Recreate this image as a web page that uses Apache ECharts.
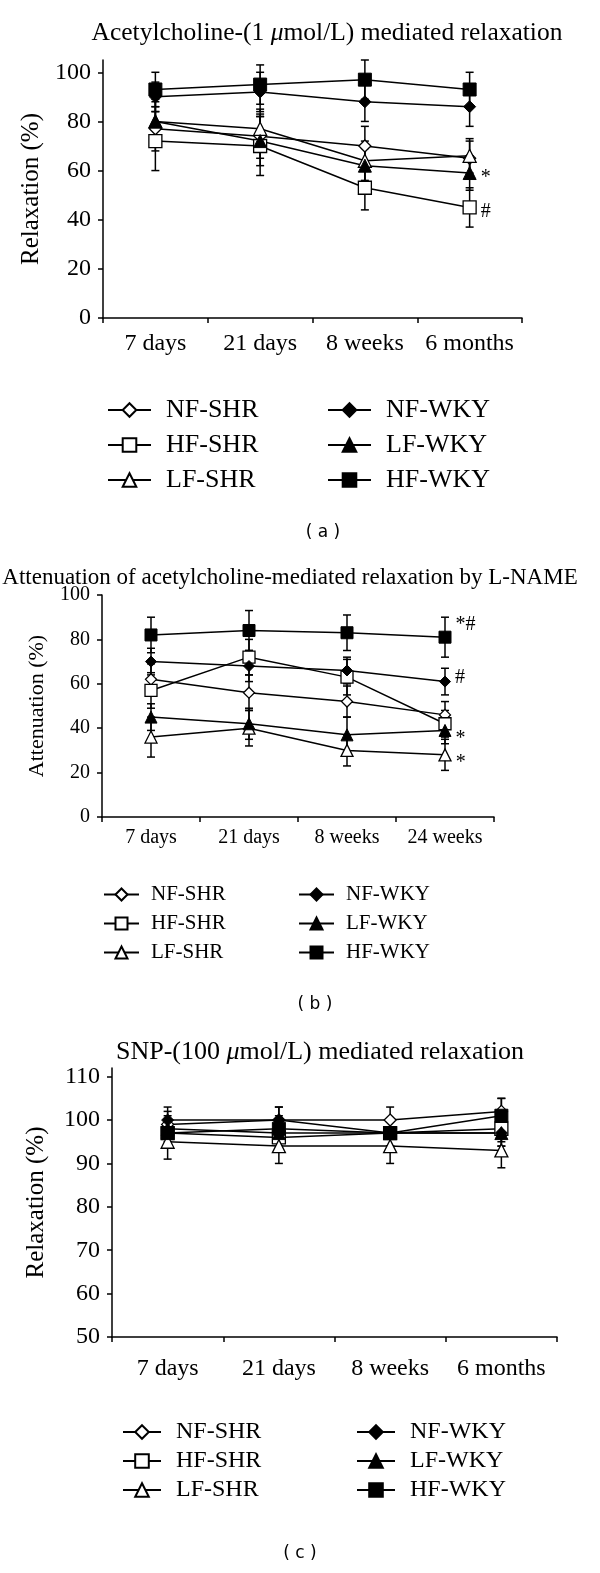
<!DOCTYPE html>
<html><head><meta charset="utf-8">
<script src="https://cdn.jsdelivr.net/npm/echarts@6/dist/echarts.min.js"></script>
<style>html,body{margin:0;padding:0;background:#fff}#c{width:600px;height:1573px}</style>
</head><body><div id="c"></div>
<script>
// ---- data ----
const groups = ['NF-SHR', 'HF-SHR', 'LF-SHR', 'NF-WKY', 'LF-WKY', 'HF-WKY'];
const categoriesA = ['7 days', '21 days', '8 weeks', '6 months'];
const categoriesB = ['7 days', '21 days', '8 weeks', '24 weeks'];
const categoriesC = ['7 days', '21 days', '8 weeks', '6 months'];
const ticksA = [0, 20, 40, 60, 80, 100];
const ticksB = [0, 20, 40, 60, 80, 100];
const ticksC = [50, 60, 70, 80, 90, 100, 110];
// rows follow the order of groups
const valuesA = [
  [77, 74, 70, 65],
  [72, 70, 53, 45],
  [80, 77, 64, 66],
  [90, 92, 88, 86],
  [80, 72, 62, 59],
  [93, 95, 97, 93]
];
const errorsA = [
  [9, 9, 8, 7],
  [12, 12, 9, 8],
  [9, 8, 8, 7],
  [6, 8, 8, 8],
  [8, 10, 7, 7],
  [7, 8, 8, 7]
];
const valuesB = [
  [62, 56, 52, 46],
  [57, 72, 63, 42],
  [36, 40, 30, 28],
  [70, 68, 66, 61],
  [45, 42, 37, 39],
  [82, 84, 83, 81]
];
const errorsB = [
  [7, 8, 7, 6],
  [8, 8, 8, 6],
  [9, 8, 7, 7],
  [6, 7, 6, 6],
  [6, 7, 8, 6],
  [8, 9, 8, 9]
];
const valuesC = [
  [99, 100, 100, 102],
  [97, 96, 97, 98],
  [95, 94, 94, 93],
  [100, 100, 97, 97],
  [98, 97, 97, 97],
  [97, 98, 97, 101]
];
const errorsC = [
  [3, 3, 3, 3],
  [3, 3, 3, 3],
  [4, 4, 4, 4],
  [3, 3, 3, 3],
  [3, 3, 3, 3],
  [3, 3, 3, 4]
];
const notesA = [null, '#', null, null, '*', null];
const notesB = [null, null, '*', '#', '*', '*#'];

// ---- styles ----
const SERIF = 'Liberation Serif';
const shapes = ['diamond', 'rect', 'triangle', 'diamond', 'triangle', 'rect'];
const filled = [false, false, false, true, true, true];
const panels = [
  { cats: categoriesA, vals: valuesA, errs: errorsA, notes: notesA,
    grid: { left: 103, top: 60, width: 419, height: 258 }, min: 0, max: 105, ticks: ticksA,
    font: 24, xMargin: 14, yName: 'Relaxation (%)', yNameGap: 56, yNameSize: 25,
    sizes: { diamond: 12, rect: 13, triangle: 13 },
    noteOffsets: { '#': [0, 4], '*': [0, 5] } },
  { cats: categoriesB, vals: valuesB, errs: errorsB, notes: notesB,
    grid: { left: 102, top: 595, width: 392, height: 222 }, min: 0, max: 100, ticks: ticksB,
    font: 20, xMargin: 11, yName: 'Attenuation (%)', yNameGap: 54, yNameSize: 22,
    sizes: { diamond: 11, rect: 12, triangle: 12 },
    noteOffsets: { '#': [0, -4], '*': [0, 8], '*#': [0, -12] } },
  { cats: categoriesC, vals: valuesC, errs: errorsC, notes: null,
    grid: { left: 112, top: 1068, width: 445, height: 269 }, min: 50, max: 112, ticks: ticksC,
    font: 24, xMargin: 20, yName: 'Relaxation (%)', yNameGap: 63, yNameSize: 25,
    sizes: { diamond: 12, rect: 13, triangle: 13 },
    noteOffsets: {} }
];

const grid = [], xAxis = [], yAxis = [], series = [];
panels.forEach((p, pi) => {
  grid.push(Object.assign({ outerBoundsMode: 'none', containLabel: false }, p.grid));
  xAxis.push({
    type: 'category', gridIndex: pi, data: p.cats, boundaryGap: true,
    axisLine: { lineStyle: { color: '#000', width: 1.5 } },
    axisTick: { show: true, interval: 0, length: 5, lineStyle: { color: '#000', width: 1.5 } },
    axisLabel: { interval: 0, hideOverlap: false, color: '#000', fontFamily: SERIF, fontSize: p.font, margin: p.xMargin },
    splitLine: { show: false }
  });
  yAxis.push({
    type: 'value', gridIndex: pi, min: p.min, max: p.max,
    name: p.yName, nameLocation: 'middle', nameGap: p.yNameGap, nameRotate: 90,
    nameTextStyle: { color: '#000', fontFamily: SERIF, fontSize: p.yNameSize },
    axisLine: { show: true, lineStyle: { color: '#000', width: 1.5 } },
    axisTick: { show: true, length: 5, customValues: p.ticks, lineStyle: { color: '#000', width: 1.5 } },
    axisLabel: { color: '#000', fontFamily: SERIF, fontSize: p.font, margin: 12, customValues: p.ticks },
    splitLine: { show: false }
  });
  // error bars
  groups.forEach((g, gi) => {
    series.push({
      type: 'custom', name: g + ' error', xAxisIndex: pi, yAxisIndex: pi, z: 1, silent: true,
      data: p.vals[gi].map((v, i) => [i, v - p.errs[gi][i], v + p.errs[gi][i]]),
      encode: { x: 0, y: [1, 2] },
      renderItem: function (params, api) {
        const lo = api.coord([api.value(0), api.value(1)]);
        const hi = api.coord([api.value(0), api.value(2)]);
        const w = 4;
        const st = { stroke: '#000', lineWidth: 1.5 };
        return { type: 'group', children: [
          { type: 'line', shape: { x1: lo[0], y1: lo[1], x2: hi[0], y2: hi[1] }, style: st },
          { type: 'line', shape: { x1: lo[0] - w, y1: lo[1], x2: lo[0] + w, y2: lo[1] }, style: st },
          { type: 'line', shape: { x1: hi[0] - w, y1: hi[1], x2: hi[0] + w, y2: hi[1] }, style: st }
        ] };
      }
    });
  });
  // lines + markers
  groups.forEach((g, gi) => {
    const note = p.notes ? p.notes[gi] : null;
    const data = p.vals[gi].map((v, i) => {
      if (note && i === p.vals[gi].length - 1) {
        return { value: v, label: { show: true, formatter: note, position: 'right', distance: 4,
          offset: p.noteOffsets[note] || [0, 0], color: '#000', fontFamily: SERIF, fontSize: 20 } };
      }
      return v;
    });
    series.push({
      type: 'line', name: g, xAxisIndex: pi, yAxisIndex: pi, z: 3,
      data: data, symbol: shapes[gi], symbolSize: p.sizes[shapes[gi]],
      showAllSymbol: true,
      lineStyle: { color: '#000', width: 1.5 },
      itemStyle: filled[gi] ? { color: '#000', borderColor: '#000', borderWidth: 1 }
                            : { color: '#fff', borderColor: '#000', borderWidth: 1.3 },
      emphasis: { disabled: true },
      animation: false
    });
  });
});

function legendPair(leftA, leftB, top, w, h, gap, fs, pad) {
  const common = { orient: 'vertical', top: top, itemWidth: w, itemHeight: h, itemGap: gap,
    selectedMode: false, padding: 0,
    textStyle: { color: '#000', fontFamily: SERIF, fontSize: fs, padding: [0, 0, 0, pad] } };
  return [
    Object.assign({ left: leftA, data: ['NF-SHR', 'HF-SHR', 'LF-SHR'] }, common),
    Object.assign({ left: leftB, data: ['NF-WKY', 'LF-WKY', 'HF-WKY'] }, common)
  ];
}
const legend = [].concat(
  legendPair(107, 327, 397, 43, 17, 9, 26, 10),
  legendPair(103, 298, 884, 35, 15, 8, 21, 7),
  legendPair(122, 356, 1420, 38, 17, 5, 24, 10)
);

function txt(x, y, text, font, rich) {
  return { type: 'text', x: x, y: y, silent: true,
    style: { text: text, font: font, fill: '#000', align: 'center', verticalAlign: 'middle', rich: rich } };
}
const richTitle = (fs) => ({
  n: { fontFamily: SERIF, fontSize: fs, color: '#000' },
  m: { fontFamily: SERIF, fontSize: fs, fontStyle: 'italic', color: '#000' }
});
const graphic = [
  txt(327, 33, '{n|Acetylcholine-(1 }{m|\u03bc}{n|mol/L) mediated relaxation}', '25.5px ' + SERIF, richTitle(25.5)),
  txt(323, 533, '( a )', '17px DejaVu Sans'),
  txt(290, 578, 'Attenuation of acetylcholine-mediated relaxation by L-NAME', '23px ' + SERIF),
  txt(315, 1005, '( b )', '17px DejaVu Sans'),
  txt(320, 1052, '{n|SNP-(100 }{m|\u03bc}{n|mol/L) mediated relaxation}', '26px ' + SERIF, richTitle(26)),
  txt(300, 1554, '( c )', '17px DejaVu Sans')
];

const chart = echarts.init(document.getElementById('c'), null, { renderer: 'canvas' });
chart.setOption({
  animation: false,
  backgroundColor: '#fff',
  grid: grid, xAxis: xAxis, yAxis: yAxis, series: series, legend: legend, graphic: graphic
});
</script></body></html>
